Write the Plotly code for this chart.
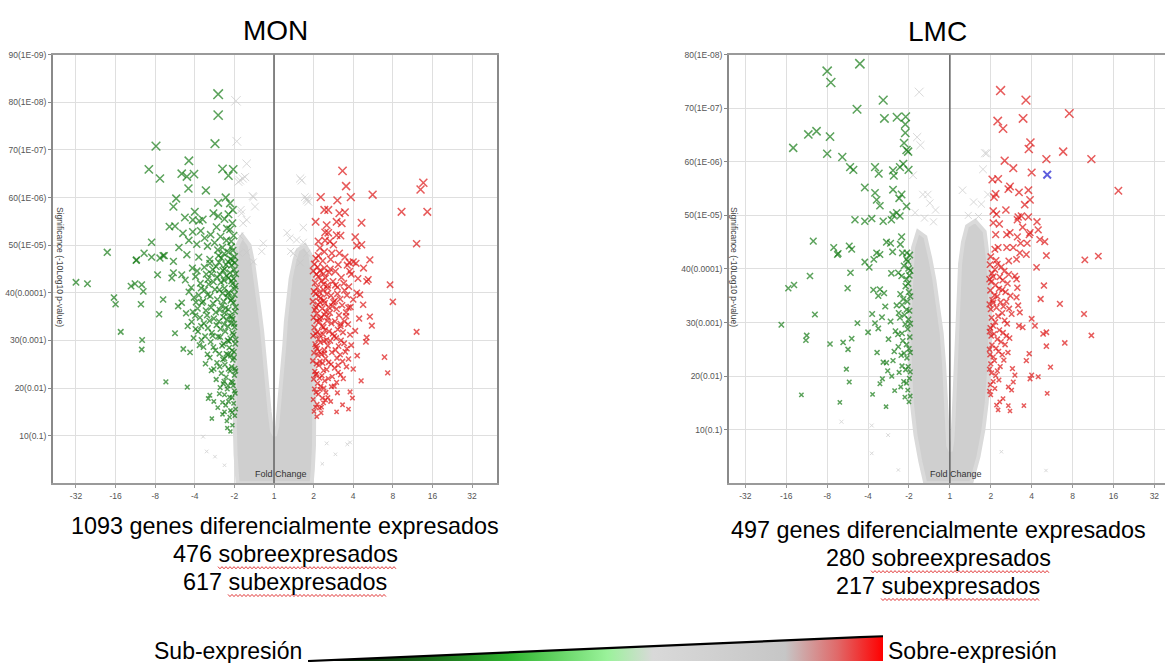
import base64
import plotly.graph_objects as go

W, H = 1165, 663

# ---------------------------------------------------------------- axes
FC_TICKS = [-5, -4, -3, -2, -1, 0, 1, 2, 3, 4, 5]          # log2 fold change
FC_LABELS = ["-32", "-16", "-8", "-4", "-2", "1", "2", "4", "8", "16", "32"]
SIG_TICKS = [10, 20, 30, 40, 50, 60, 70, 80, 90]              # -10 log10 p
SIG_LABELS = ["10(0.1)", "20(0.01)", "30(0.001)", "40(0.0001)", "50(1E-05)",
              "60(1E-06)", "70(1E-07)", "80(1E-08)", "90(1E-09)"]

# ---------------------------------------------------------------- MON
# envelope of the dense cloud of non-significant genes (log2FC, significance)
MON_NS_CLOUD = [
    (-0.92, 0), (-0.97, 6), (-0.99, 12), (-0.99, 22), (-0.98, 32), (-0.97, 40),
    (-0.96, 46), (-0.92, 50), (-0.80, 52), (-0.62, 50), (-0.52, 46), (-0.45, 42),
    (-0.36, 36), (-0.30, 32), (-0.24, 26), (-0.18, 20), (-0.11, 15), (-0.05, 11),
    (0.02, 10), (0.08, 12), (0.14, 17), (0.20, 23), (0.26, 29), (0.30, 34),
    (0.36, 39), (0.42, 43), (0.52, 47), (0.60, 49), (0.78, 50), (0.92, 48),
    (0.98, 44), (1.01, 36), (1.02, 26), (1.02, 16), (1.01, 8), (0.98, 3), (0.95, 0),
]
MON_NS_SPARSE = [
    (-0.96, 80.3), (-0.94, 71.8), (-0.69, 67.1), (-0.86, 63.6), (-0.73, 64.3),
    (-0.54, 60.3), (-0.48, 58.1), (-0.84, 57.4), (-0.78, 54.6), (-0.69, 55.3),
    (-0.27, 50.4), (-0.31, 48.7), (-0.86, 51.9), (-0.69, 48.5), (-0.52, 46.5),
    (-0.88, 48.3), (-0.79, 64.0), (-0.90, 63.3), (-0.52, 60.1), (-0.82, 56.7),
    (0.70, 63.6), (0.78, 60.1), (0.87, 59.1), (0.83, 59.8), (0.74, 53.7),
    (0.40, 51.5), (0.74, 50.6), (0.42, 48.7), (0.83, 48.3), (0.66, 64.0),
    (0.83, 59.4), (0.57, 51.1), (0.49, 48.3), (0.66, 46.3), (0.33, 52.6),
    (1.92, 8.6), (1.85, 8.2), (1.33, 8.4), (-1.79, 9.8), (-1.70, 6.7),
    (-1.49, 5.6), (-1.25, 3.8), (1.22, 4.1), (1.55, 6.1),
]
MON_DOWN = [
    (-1.41, 81.7), (-1.41, 77.3), (-1.49, 71.3), (-2.98, 70.8), (-3.16, 65.9),
    (-2.88, 64.0), (-2.15, 67.7), (-2.33, 65.0), (-2.20, 64.4), (-2.02, 64.9),
    (-1.30, 66.0), (-1.03, 65.9), (-1.15, 64.6), (-2.16, 61.9), (-1.72, 61.5),
    (-2.47, 59.8), (-2.54, 58.1), (-1.22, 60.0), (-1.41, 58.9), (-1.11, 58.8),
    (-1.04, 57.4), (-2.00, 57.0), (-2.25, 55.8), (-2.05, 55.3), (-1.89, 55.1),
    (-1.80, 55.4), (-2.64, 53.9), (-2.50, 54.0), (-1.53, 56.7), (-1.41, 56.1),
    (-1.19, 53.5), (-1.11, 53.3), (-3.09, 50.6), (-4.21, 48.5), (-3.28, 48.3),
    (-3.09, 47.5), (-2.80, 47.8), (-3.48, 46.8), (-2.54, 46.6), (-5.00, 42.2),
    (-4.71, 41.9), (-3.61, 41.4), (-3.51, 41.9), (-3.34, 41.7), (-3.30, 40.3),
    (-4.04, 39.0), (-4.00, 37.6), (-3.36, 37.6), (-3.87, 31.8), (-3.33, 30.1),
    (-3.34, 28.1), (-2.94, 43.8), (-3.47, 46.9), (-2.88, 47.3), (-2.77, 47.8),
    (-2.80, 38.6), (-2.90, 35.5), (-2.50, 31.5), (-2.73, 21.3), (-2.19, 20.2),
    (-2.29, 28.2), (-2.12, 27.5), (-2.58, 43.1), (-2.54, 44.2), (-2.33, 43.8),
    (-2.42, 37.2), (-2.33, 37.9), (-1.62, 18.5), (-1.66, 17.8), (-1.57, 13.6),
    (-2.30, 52.5), (-2.15, 51.0), (-2.05, 52.8), (-1.95, 50.2), (-1.85, 53.0),
    (-1.75, 51.5), (-1.68, 49.8), (-1.60, 52.2), (-1.50, 50.5), (-1.45, 53.8),
    (-1.35, 51.8), (-1.30, 49.5), (-1.25, 55.5), (-1.20, 51.0), (-1.15, 56.5),
    (-1.08, 50.8), (-1.05, 54.6), (-1.02, 52.0), (-2.40, 49.5), (-2.20, 48.0),
    (-1.90, 47.5), (-1.62, 47.0), (-1.40, 47.8), (-1.15, 48.5), (-1.05, 46.8),
    (-0.99, 14.2), (-1.02, 16.8), (-0.98, 18.9), (-1.03, 20.5), (-1.00, 22.7),
    (-0.99, 24.1), (-1.04, 25.9), (-1.01, 27.6), (-0.98, 29.3), (-1.02, 31.2),
    (-1.00, 32.8), (-1.05, 34.5), (-0.99, 36.1), (-1.03, 37.9), (-1.00, 39.6),
    (-0.98, 41.4), (-1.02, 43.0), (-1.01, 44.8), (-0.99, 46.3), (-1.04, 48.9),
    (-1.10, 15.3), (-1.12, 18.1), (-1.08, 21.4), (-1.11, 23.6), (-1.09, 26.8),
    (-1.13, 28.5), (-1.10, 30.4), (-1.08, 33.7), (-1.12, 35.2), (-1.09, 38.4),
    (-1.14, 40.1), (-1.07, 42.5), (-1.11, 44.2), (-1.10, 47.1), (-1.08, 49.6),
    (-1.19, 13.1), (-1.22, 16.4), (-1.18, 19.8), (-1.21, 22.3), (-1.24, 24.9),
    (-1.20, 27.2), (-1.17, 30.0), (-1.23, 31.9), (-1.19, 34.3), (-1.22, 36.8),
    (-1.18, 39.1), (-1.25, 41.0), (-1.20, 43.6), (-1.21, 45.9), (-1.26, 48.2),
    (-1.30, 17.0), (-1.28, 20.9), (-1.33, 23.1), (-1.29, 26.0), (-1.31, 28.9),
    (-1.35, 32.4), (-1.28, 34.9), (-1.32, 37.3), (-1.30, 39.9), (-1.34, 42.2),
    (-1.29, 44.7), (-1.33, 47.3), (-1.42, 15.9), (-1.46, 21.8), (-1.44, 25.3),
    (-1.48, 27.9), (-1.41, 30.8), (-1.45, 33.2), (-1.47, 35.9), (-1.43, 38.6),
    (-1.49, 40.7), (-1.44, 43.3), (-1.46, 45.5), (-1.42, 49.0), (-1.58, 23.7),
    (-1.62, 26.4), (-1.60, 29.7), (-1.57, 31.6), (-1.63, 34.1), (-1.59, 36.9),
    (-1.61, 39.3), (-1.65, 41.8), (-1.58, 44.0), (-1.62, 46.2), (-1.73, 25.1),
    (-1.78, 28.6), (-1.74, 30.9), (-1.77, 33.6), (-1.72, 36.3), (-1.79, 38.2),
    (-1.75, 40.6), (-1.71, 43.9), (-1.76, 45.4), (-1.88, 29.0), (-1.92, 31.9),
    (-1.87, 34.8), (-1.93, 36.7), (-1.90, 39.5), (-1.86, 42.0), (-1.94, 44.6),
    (-2.03, 30.5), (-2.08, 33.9), (-2.05, 36.0), (-2.02, 39.0), (-2.09, 41.1),
    (-2.06, 45.2), (-2.18, 33.0), (-2.22, 35.7), (-2.15, 40.2), (-2.24, 42.7),
    (-1.38, 18.8), (-1.52, 17.2), (-1.12, 13.9), (-1.30, 14.5), (-1.25, 15.0),
    (-0.97, 15.6), (-1.00, 19.4), (-0.97, 23.6), (-1.01, 26.4), (-0.97, 30.2),
    (-1.01, 33.5), (-0.97, 37.0), (-1.00, 40.8), (-0.97, 44.0), (-1.00, 47.6),
    (-1.06, 14.9), (-1.06, 18.0), (-1.05, 21.2), (-1.07, 24.5), (-1.06, 27.9),
    (-1.05, 31.6), (-1.07, 35.0), (-1.06, 38.7), (-1.05, 41.9), (-1.07, 45.8),
    (-1.15, 17.2), (-1.16, 20.5), (-1.15, 24.0), (-1.16, 27.0), (-1.14, 29.8),
    (-1.16, 32.9), (-1.15, 36.5), (-1.16, 39.8), (-1.15, 43.1), (-1.16, 46.5),
    (-1.25, 18.6), (-1.26, 21.4), (-1.25, 26.2), (-1.27, 29.3), (-1.26, 33.4),
    (-1.25, 35.8), (-1.27, 38.2), (-1.26, 42.6), (-1.25, 45.0), (-1.36, 20.1),
    (-1.37, 24.5), (-1.38, 27.2), (-1.36, 30.7), (-1.39, 34.0), (-1.37, 36.4),
    (-1.38, 40.6), (-1.36, 43.8), (-1.39, 46.4), (-1.52, 24.0), (-1.53, 28.6),
    (-1.55, 31.0), (-1.52, 34.6), (-1.54, 37.8), (-1.53, 42.3), (-1.55, 44.9),
    (-1.68, 27.1), (-1.67, 32.6), (-1.69, 35.3), (-1.68, 39.6), (-1.67, 42.8),
    (-1.83, 30.1), (-1.84, 33.0), (-1.82, 37.9), (-1.84, 41.0), (-1.98, 32.4),
    (-1.99, 35.2), (-1.97, 38.0), (-1.98, 43.4), (-1.05, 12.2), (-1.18, 11.6),
    (-1.10, 10.9),
]
MON_UP = [
    (1.73, 65.6), (1.82, 62.4), (1.18, 60.1), (1.60, 59.4), (1.94, 60.1),
    (2.49, 60.6), (3.77, 63.1), (3.70, 61.7), (3.22, 57.0), (3.87, 57.0),
    (3.60, 50.3), (1.05, 54.9), (1.27, 57.4), (1.37, 57.4), (1.65, 56.7),
    (1.79, 56.9), (1.58, 54.9), (1.71, 54.6), (2.21, 54.7), (1.33, 54.2),
    (1.29, 52.7), (1.37, 52.6), (1.58, 52.1), (1.68, 52.0), (2.05, 51.7),
    (2.09, 49.9), (2.21, 50.1), (1.12, 50.8), (1.29, 51.0), (1.41, 50.8),
    (1.50, 50.1), (1.16, 49.4), (1.12, 47.8), (1.46, 48.3), (1.65, 48.3),
    (2.42, 46.9), (2.00, 46.5), (1.90, 46.4), (2.26, 45.2), (2.07, 46.2),
    (2.38, 42.8), (2.34, 42.4), (2.93, 41.7), (3.00, 38.1), (3.60, 31.8),
    (2.42, 35.0), (2.47, 33.1), (2.15, 34.6), (2.34, 30.6), (2.32, 29.7),
    (2.79, 26.5), (2.87, 23.2), (2.00, 24.0), (1.92, 19.2), (1.88, 15.6),
    (1.73, 16.5), (1.58, 15.0), (1.08, 14.0), (2.09, 40.0), (2.17, 39.6),
    (1.88, 36.9), (1.82, 35.1), (1.85, 45.8), (1.55, 44.5), (1.70, 43.2),
    (1.42, 45.0), (1.25, 44.0), (1.95, 43.9), (2.12, 43.0), (1.60, 41.2),
    (1.78, 40.5), (2.00, 38.6), (1.50, 38.0), (1.35, 41.6), (2.25, 37.5),
    (1.68, 33.5), (2.05, 32.0), (1.95, 29.0), (1.80, 27.6), (2.10, 26.8),
    (1.62, 24.8), (1.75, 22.0), (1.45, 20.3), (1.60, 19.0), (1.30, 17.5),
    (1.20, 16.0), (2.20, 21.5), (1.98, 17.9),
    (1.01, 15.1), (0.99, 17.6), (1.02, 19.8), (1.00, 21.9), (1.03, 23.5),
    (0.98, 25.7), (1.01, 27.4), (1.04, 29.2), (0.99, 31.0), (1.02, 32.7),
    (1.00, 34.8), (1.03, 36.4), (0.98, 38.2), (1.01, 40.3), (1.04, 42.1),
    (0.99, 44.6), (1.02, 46.0), (1.09, 16.6), (1.12, 18.7), (1.10, 21.0),
    (1.08, 23.0), (1.13, 24.8), (1.11, 26.9), (1.09, 28.3), (1.12, 30.3),
    (1.10, 31.8), (1.14, 33.9), (1.08, 35.6), (1.11, 37.5), (1.13, 39.2),
    (1.09, 41.1), (1.12, 43.4), (1.10, 45.4), (1.19, 14.8), (1.22, 17.9),
    (1.18, 20.4), (1.21, 22.6), (1.23, 25.2), (1.20, 27.1), (1.17, 29.6),
    (1.24, 31.3), (1.21, 33.0), (1.19, 34.9), (1.22, 36.7), (1.18, 38.9),
    (1.25, 40.6), (1.20, 42.5), (1.23, 46.7), (1.31, 19.1), (1.28, 21.5),
    (1.33, 23.9), (1.30, 26.2), (1.27, 28.0), (1.32, 30.1), (1.29, 32.2),
    (1.34, 34.1), (1.31, 36.0), (1.28, 37.8), (1.33, 39.7), (1.30, 43.1),
    (1.27, 48.6), (1.43, 17.2), (1.47, 22.4), (1.44, 25.0), (1.46, 27.5),
    (1.42, 29.9), (1.48, 31.4), (1.45, 33.6), (1.41, 35.8), (1.47, 37.2),
    (1.44, 39.4), (1.49, 42.4), (1.43, 47.0), (1.58, 21.2), (1.62, 23.3),
    (1.59, 26.3), (1.63, 28.8), (1.57, 30.5), (1.61, 32.3), (1.64, 35.3),
    (1.58, 36.6), (1.60, 39.8), (1.62, 45.9), (1.73, 25.6), (1.77, 29.4),
    (1.74, 31.7), (1.78, 34.0), (1.72, 37.4), (1.76, 42.0), (1.79, 47.5),
    (1.88, 26.1), (1.92, 31.2), (1.87, 33.4), (1.93, 37.0), (1.89, 41.3),
    (1.91, 44.5),
    (1.05, 16.0), (1.06, 19.1), (1.05, 22.8), (1.07, 25.1), (1.06, 28.7),
    (1.05, 31.4), (1.07, 34.1), (1.06, 36.9), (1.05, 39.8), (1.07, 43.9),
    (1.06, 47.2), (1.15, 15.8), (1.16, 19.7), (1.15, 22.1), (1.16, 25.6),
    (1.14, 27.7), (1.16, 31.1), (1.15, 34.5), (1.16, 38.0), (1.15, 40.1),
    (1.16, 44.6), (1.25, 16.9), (1.26, 20.0), (1.25, 23.7), (1.27, 27.3),
    (1.26, 29.9), (1.25, 32.8), (1.27, 35.4), (1.26, 38.4), (1.25, 41.8),
    (1.27, 45.2), (1.36, 18.0), (1.37, 22.0), (1.38, 25.4), (1.36, 28.9),
    (1.39, 31.9), (1.37, 34.8), (1.38, 37.0), (1.36, 41.0), (1.39, 44.3),
    (1.52, 20.4), (1.53, 24.2), (1.55, 28.0), (1.52, 30.9), (1.54, 34.0),
    (1.53, 38.3), (1.55, 41.6), (1.68, 22.8), (1.67, 27.0), (1.69, 30.0),
    (1.68, 33.0), (1.67, 38.7), (1.83, 24.5), (1.84, 28.3), (1.82, 35.9),
    (1.84, 39.5),
]

# ---------------------------------------------------------------- LMC
LMC_NS_CLOUD = [
    (-0.60, 0), (-0.72, 4), (-0.84, 9), (-0.93, 15), (-0.98, 22), (-0.99, 28),
    (-0.97, 34), (-0.94, 40), (-0.90, 44), (-0.78, 47), (-0.60, 46), (-0.48, 42),
    (-0.38, 38), (-0.29, 33), (-0.20, 28), (-0.14, 22), (-0.10, 16), (-0.07, 11),
    (-0.04, 7), (0.02, 6), (0.06, 8), (0.09, 12), (0.12, 18), (0.15, 24),
    (0.18, 30), (0.21, 36), (0.25, 41), (0.32, 45), (0.42, 48), (0.62, 49),
    (0.85, 47), (0.93, 42), (0.98, 36), (0.99, 28), (0.96, 21), (0.90, 15),
    (0.82, 10), (0.70, 5), (0.57, 1), (0.52, 0),
]
LMC_NS_SPARSE = [
    (-0.75, 73.0), (-0.80, 64.6), (-0.72, 63.1), (-0.66, 53.9), (-0.54, 53.9),
    (-0.49, 52.3), (0.90, 61.6), (0.31, 54.7), (0.77, 52.1), (0.93, 53.9),
    (0.86, 61.6), (0.81, 58.6), (-0.85, 50.5), (-0.62, 49.5), (-0.40, 48.8),
    (0.45, 50.0), (0.70, 49.8), (0.58, 52.5), (-0.90, 57.5), (-0.35, 51.0),
    (2.35, 2.4), (1.26, 5.9), (-2.65, 11.5), (-1.91, 10.8), (-1.51, 9.0),
    (-1.26, 2.5), (-1.91, 5.6),
]
LMC_DOWN = [
    (-2.20, 78.3), (-3.00, 76.9), (-2.91, 74.8), (-2.27, 69.8), (-1.63, 71.5),
    (-1.60, 68.1), (-1.29, 68.3), (-1.08, 68.4), (-1.09, 67.0), (-1.09, 65.4),
    (-3.46, 65.1), (-3.26, 65.7), (-2.93, 64.7), (-3.83, 62.6), (-1.12, 63.5),
    (-1.06, 62.2), (-1.02, 61.9), (-3.00, 61.5), (-2.63, 60.9), (-2.44, 59.0),
    (-2.36, 58.5), (-1.83, 59.0), (-1.74, 57.8), (-1.39, 58.4), (-1.22, 59.0),
    (-1.14, 59.6), (-1.01, 58.5), (-1.37, 57.4), (-2.08, 55.2), (-1.83, 54.2),
    (-1.79, 52.9), (-1.71, 51.8), (-1.39, 54.8), (-1.24, 53.2), (-1.18, 53.9),
    (-1.06, 51.7), (-1.30, 50.5), (-1.39, 50.1), (-2.32, 49.2), (-2.08, 48.9),
    (-1.91, 49.4), (-1.63, 48.9), (-1.43, 49.2), (-1.22, 49.9), (-3.34, 45.2),
    (-2.84, 44.0), (-2.73, 42.9), (-2.46, 44.3), (-2.40, 43.7), (-1.79, 43.0),
    (-1.71, 42.7), (-1.55, 45.0), (-1.45, 44.8), (-1.40, 43.2), (-1.21, 44.6),
    (-1.18, 46.0), (-1.16, 43.0), (-1.06, 41.8), (-2.08, 41.3), (-1.97, 40.3),
    (-1.86, 41.8), (-2.75, 42.7), (-3.42, 38.7), (-3.95, 36.4), (-3.81, 37.0),
    (-2.43, 39.3), (-2.50, 36.4), (-3.30, 31.5), (-4.12, 29.6), (-3.50, 27.6),
    (-3.52, 26.7), (-2.93, 26.0), (-2.61, 26.3), (-2.49, 25.0), (-2.40, 27.0),
    (-2.26, 29.9), (-2.00, 28.2), (-1.90, 31.6), (-1.83, 29.9), (-1.75, 28.9),
    (-2.53, 21.3), (-2.46, 18.9), (-3.63, 16.5), (-2.69, 15.1), (-1.89, 16.6),
    (-1.71, 18.6), (-1.63, 22.6), (-1.55, 22.5), (-1.39, 22.9), (-1.56, 14.3),
    (-1.87, 36.1), (-1.71, 36.2), (-1.75, 35.0), (-1.61, 35.5), (-1.43, 39.2),
    (-1.26, 39.3), (-1.18, 38.7),
    (-1.00, 15.2), (-1.03, 17.4), (-0.99, 19.6), (-1.02, 21.8), (-1.05, 23.4),
    (-1.00, 25.1), (-0.98, 27.3), (-1.03, 28.8), (-1.01, 30.6), (-0.99, 32.2),
    (-1.04, 33.9), (-1.00, 35.7), (-1.02, 37.3), (-0.99, 38.8), (-1.01, 40.1),
    (-1.03, 41.4), (-0.98, 42.6), (-1.10, 16.1), (-1.13, 19.0), (-1.08, 21.2),
    (-1.12, 24.3), (-1.15, 26.6), (-1.09, 29.7), (-1.11, 31.4), (-1.14, 34.4),
    (-1.08, 36.8), (-1.12, 40.6), (-1.20, 18.0), (-1.24, 20.7), (-1.19, 23.9),
    (-1.27, 27.8), (-1.22, 30.9), (-1.30, 33.2), (-1.21, 35.3), (-1.33, 28.4),
    (-1.36, 24.6), (-1.45, 30.2), (-1.50, 26.9), (-1.42, 20.0), (-1.66, 31.0),
    (-1.58, 33.0), (-1.65, 19.5), (-1.52, 21.0), (-1.35, 17.3), (-1.78, 24.4),
    (-0.97, 16.3), (-0.97, 20.8), (-0.97, 24.4), (-0.97, 29.8), (-0.97, 34.9),
    (-0.97, 39.7), (-1.06, 18.7), (-1.06, 25.9), (-1.06, 32.4), (-1.06, 38.1),
    (-1.17, 21.9), (-1.17, 28.0), (-1.17, 33.3), (-1.26, 25.5), (-1.25, 31.8),
    (-1.05, 43.0),
]
LMC_UP = [
    (1.24, 73.3), (1.86, 71.5), (2.92, 69.0), (1.17, 67.6), (1.30, 66.2),
    (1.79, 68.1), (1.97, 63.6), (1.93, 62.4), (2.77, 61.9), (2.36, 60.5),
    (3.46, 60.5), (1.34, 60.2), (1.55, 58.8), (2.00, 58.0), (1.04, 56.7),
    (1.18, 56.8), (1.47, 55.4), (1.43, 54.9), (1.69, 54.3), (1.92, 54.7),
    (1.96, 52.9), (1.83, 52.0), (1.12, 54.0), (1.08, 53.4), (4.12, 54.6),
    (1.06, 50.8), (1.14, 50.2), (1.37, 51.0), (1.67, 49.7), (1.65, 49.2),
    (1.75, 49.9), (1.92, 49.7), (1.06, 48.6), (1.21, 48.4), (2.13, 48.8),
    (1.96, 46.8), (1.94, 46.4), (2.16, 47.3), (2.20, 45.5), (2.32, 45.1),
    (1.78, 47.8), (1.12, 46.4), (1.39, 46.4), (1.47, 46.8), (1.65, 46.0),
    (1.89, 44.8), (1.73, 44.8), (1.55, 44.0), (1.18, 44.0), (1.10, 43.7),
    (1.39, 44.0), (1.71, 43.0), (1.87, 42.7), (2.36, 42.5), (3.30, 41.7),
    (3.63, 42.4), (2.12, 40.3), (2.30, 36.9), (2.22, 34.4), (2.69, 33.5),
    (3.28, 31.6), (3.46, 27.6), (2.81, 26.2), (2.36, 25.6), (2.46, 21.7),
    (2.16, 19.9), (2.00, 20.2), (1.96, 19.5), (2.38, 16.8), (1.81, 14.5),
    (1.47, 13.5), (1.18, 13.7), (1.87, 22.9), (1.94, 24.2), (2.08, 29.4),
    (2.00, 30.7), (1.78, 29.1), (1.69, 29.4), (2.28, 27.9), (2.36, 28.2),
    (1.63, 34.7), (1.67, 33.2), (1.71, 31.9), (1.51, 31.6), (1.59, 38.7),
    (1.63, 38.1), (1.65, 36.5), (1.44, 41.5), (1.63, 41.8), (1.53, 21.4),
    (1.59, 20.2), (1.55, 18.9), (1.43, 18.0), (1.51, 17.4), (1.30, 15.8),
    (1.14, 14.6), (1.22, 15.2), (1.43, 14.5),
    (1.00, 16.5), (0.99, 18.4), (1.02, 20.6), (1.00, 22.3), (0.98, 24.0),
    (1.03, 25.8), (1.01, 27.5), (0.99, 29.0), (1.02, 30.9), (1.00, 32.5),
    (1.04, 34.2), (0.99, 36.0), (1.01, 37.6), (1.03, 39.2), (0.98, 40.8),
    (1.00, 42.3), (1.10, 17.7), (1.12, 20.1), (1.09, 22.9), (1.13, 25.2),
    (1.08, 27.9), (1.11, 30.1), (1.14, 32.8), (1.09, 35.1), (1.12, 37.0),
    (1.10, 39.9), (1.13, 41.6), (1.20, 19.3), (1.23, 21.8), (1.19, 24.6),
    (1.25, 26.4), (1.21, 28.6), (1.18, 31.2), (1.24, 33.8), (1.20, 36.3),
    (1.22, 38.5), (1.26, 40.4), (1.32, 23.0), (1.35, 25.9), (1.30, 28.1),
    (1.34, 30.4), (1.31, 33.0), (1.36, 35.7), (1.29, 37.9), (1.33, 39.6),
    (1.42, 24.4), (1.46, 27.1), (1.40, 29.8), (1.45, 32.6), (1.48, 35.0),
    (1.41, 37.3), (1.44, 39.0),
    (0.97, 17.2), (0.97, 21.3), (0.97, 25.0), (0.97, 28.3), (0.97, 33.4),
    (0.97, 38.1), (1.06, 19.0), (1.06, 23.6), (1.06, 29.4), (1.06, 33.7),
    (1.06, 38.6), (1.16, 21.0), (1.16, 26.9), (1.16, 34.9), (1.16, 40.9),
    (1.28, 24.0), (1.28, 31.8), (1.28, 36.1), (1.38, 27.5), (1.38, 33.9),
]
LMC_SELECTED = [(2.38, 57.6)]

SUMMARY = {
    "MON": ["1093 genes diferencialmente expresados", "476 sobreexpresados", "617 subexpresados"],
    "LMC": ["497 genes diferencialmente expresados", "280 sobreexpresados", "217 subexpresados"],
}

# ---------------------------------------------------------------- styling
FONT = "Arial, Liberation Sans, sans-serif"
GREY_CLOUD = "#cfcfcf"
GREY_PT = "#c9c9c9"
GREEN = "#177c17"
RED = "#de1616"
BLUE = "#1a1ad0"


def px(x):
    return x / W


def py(y):
    return 1 - y / H


def sizes(pts):
    return [3.0 + 0.08 * y for _, y in pts]


def marks(pts, color, xa, ya, width=1.5):
    return go.Scatter(
        x=[p[0] for p in pts], y=[p[1] for p in pts], mode="markers",
        xaxis=xa, yaxis=ya, hoverinfo="skip", showlegend=False,
        marker=dict(symbol="x-thin", size=sizes(pts), color=color,
                    line=dict(color=color, width=width)),
    )


def cloud(pts, xa, ya):
    return go.Scatter(
        x=[p[0] for p in pts] + [pts[0][0]], y=[p[1] for p in pts] + [pts[0][1]],
        mode="lines", fill="toself", fillcolor=GREY_CLOUD,
        line=dict(color="#dadada", width=4), xaxis=xa, yaxis=ya,
        hoverinfo="skip", showlegend=False,
    )


fig = go.Figure()
for xa, ya, ns, sp, dn, up in [
    ("x", "y", MON_NS_CLOUD, MON_NS_SPARSE, MON_DOWN, MON_UP),
    ("x2", "y2", LMC_NS_CLOUD, LMC_NS_SPARSE, LMC_DOWN, LMC_UP),
]:
    fig.add_trace(cloud(ns, xa, ya))
    fig.add_trace(marks(sp, GREY_PT, xa, ya, 1.0))
    fig.add_trace(marks(dn, GREEN, xa, ya))
    fig.add_trace(marks(up, RED, xa, ya))
fig.add_trace(marks(LMC_SELECTED, BLUE, "x2", "y2", 2.0))

tickfont = dict(family=FONT, size=8.5, color="#555")
xcommon = dict(tickmode="array", tickvals=FC_TICKS, ticktext=FC_LABELS,
               showgrid=True, gridcolor="#dfdfdf", gridwidth=1.2,
               zeroline=False, showline=True, linecolor="#9a9a9a", linewidth=2,
               ticks="outside", ticklen=3, tickcolor="#999", tickfont=tickfont,
               fixedrange=True)
ycommon = dict(showgrid=True, gridcolor="#dfdfdf", gridwidth=1.2,
               zeroline=False, showline=True, linecolor="#8a8a8a", linewidth=2,
               ticks="outside", ticklen=3, tickcolor="#888", tickfont=tickfont,
               fixedrange=True)

ydom = [py(482), py(50)]
fig.update_layout(
    width=W, height=H, autosize=False,
    margin=dict(l=0, r=0, t=0, b=0),
    paper_bgcolor="white", plot_bgcolor="white",
    xaxis=dict(domain=[px(53), px(497)], range=[-5.58, 5.63], mirror=True,
               anchor="y", **xcommon),
    yaxis=dict(domain=ydom, range=[0, 90], mirror=True, anchor="x",
               tickmode="array", tickvals=SIG_TICKS, ticktext=SIG_LABELS,
               **ycommon),
    xaxis2=dict(domain=[px(729), 1.0], range=[-5.40, 5.26], mirror=True,
                anchor="y2", **xcommon),
    yaxis2=dict(domain=ydom, range=[0, 80], mirror=False, anchor="x2",
                tickmode="array", tickvals=SIG_TICKS[:8], ticktext=SIG_LABELS[:8],
                **ycommon),
)

shapes = []
# fold change = 1 reference lines
for xr, ytop in [("x", 90), ("x2", 80)]:
    shapes.append(dict(type="line", xref=xr, yref=xr.replace("x", "y"),
                       x0=0, x1=0, y0=0, y1=ytop, layer="above",
                       line=dict(color="#6a6a6a", width=1.6)))


def squiggle(x0, x1, y):
    pts, x, up = [], x0, True
    while x <= x1:
        pts.append((x, y - 1.1 if up else y + 1.1))
        x += 2
        up = not up
    return dict(type="path", xref="paper", yref="paper",
                path="M " + " L ".join(f"{px(a):.5f},{py(b):.5f}" for a, b in pts),
                line=dict(color="#e23a3a", width=1))


shapes += [squiggle(218, 397, 567), squiggle(228, 387, 595),
           squiggle(871, 1050, 571), squiggle(881, 1040, 599)]
fig.update_layout(shapes=shapes)


def label(text, x, y, size, color="#000", xanchor="center", angle=0):
    return dict(text=text, x=px(x), y=py(y), xref="paper", yref="paper",
                xanchor=xanchor, yanchor="middle", textangle=angle,
                showarrow=False, font=dict(family=FONT, size=size, color=color))


ann = [label("MON", 275, 26, 28), label("LMC", 937, 27, 28)]
for cx in [60, 734]:
    ann.append(label("Significance (-10Log10 p-value)", cx, 264, 8.5, "#444", angle=90))
for cx in [281, 956]:
    ann.append(label("Fold Change", cx, 473, 9, "#333"))
for key, cx, y0 in [("MON", 285, 525), ("LMC", 938, 529)]:
    for i, line in enumerate(SUMMARY[key]):
        ann.append(label(line, cx, y0 + 28 * i, 23.4))
ann.append(label("Sub-expresión", 304, 651, 23, xanchor="right"))
ann.append(label("Sobre-expresión", 886, 651, 23, xanchor="left"))
fig.update_layout(annotations=ann)

# expression colour wedge
gw, gh = 575, 27
svg = (
    f'<svg xmlns="http://www.w3.org/2000/svg" width="{gw}" height="{gh}" '
    f'viewBox="0 0 {gw} {gh}" preserveAspectRatio="none">'
    '<defs><linearGradient id="g" x1="0" x2="1" y1="0" y2="0">'
    '<stop offset="0" stop-color="#000000"/>'
    '<stop offset="0.12" stop-color="#0c3a0c"/>'
    '<stop offset="0.35" stop-color="#2fb52f"/>'
    '<stop offset="0.52" stop-color="#9af29a"/>'
    '<stop offset="0.60" stop-color="#d9d9d9"/>'
    '<stop offset="0.83" stop-color="#c6c6c6"/>'
    '<stop offset="0.92" stop-color="#e06a6a"/>'
    '<stop offset="1" stop-color="#ff0000"/>'
    '</linearGradient></defs>'
    f'<polygon points="0,{gh - 1} {gw},1 {gw},{gh - 1}" fill="url(#g)"/>'
    f'<line x1="0" y1="{gh - 1}" x2="{gw}" y2="1" stroke="#000" stroke-width="2.2"/>'
    '</svg>'
)
fig.add_layout_image(dict(
    source="data:image/svg+xml;base64," + base64.b64encode(svg.encode()).decode(),
    xref="paper", yref="paper", x=px(308), y=py(635), sizex=gw / W, sizey=gh / H,
    xanchor="left", yanchor="top", sizing="stretch", layer="above",
))

fig.write_html("out.html", config={"displayModeBar": False})
